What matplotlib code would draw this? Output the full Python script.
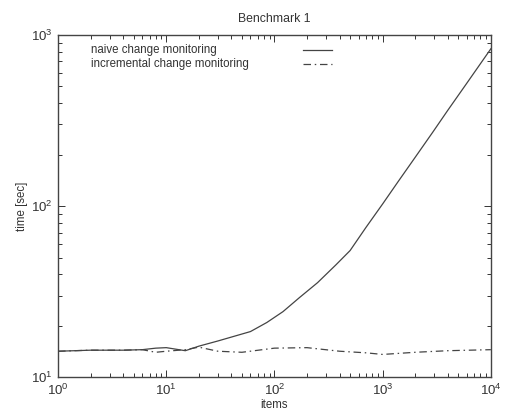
import matplotlib
matplotlib.use("Agg")
import matplotlib.pyplot as plt

plt.rcParams['font.family'] = ['Liberation Sans', 'DejaVu Sans']
plt.rcParams['mathtext.fontset'] = 'custom'
plt.rcParams['mathtext.rm'] = 'Liberation Sans'

# data
items_naive = [1, 2, 4, 6, 8, 10, 15, 20, 30, 60, 85, 120, 170, 250, 370, 500, 700,
               1000, 1400, 2000, 2900, 4000, 5900, 10000]
time_naive = [14.2, 14.4, 14.4, 14.5, 14.8, 14.9, 14.3, 15.2, 16.3, 18.5, 20.9, 24.2, 29.2,
              35.7, 45.4, 55.0, 75.0, 103, 140, 193, 270, 363, 515, 830]

items_inc = [1, 2, 4, 6, 8, 10, 15, 20, 30, 50, 100, 200, 400, 700, 1000, 2000, 4000, 10000]
time_inc = [14.2, 14.4, 14.4, 14.5, 14.0, 14.2, 14.5, 15.0, 14.2, 14.0, 14.8, 14.9, 14.2,
            13.9, 13.6, 14.0, 14.3, 14.5]

labels = ["naive change monitoring", "incremental change monitoring"]

line_color = '#444444'
txt_color = '#333333'
fs = 8.3

fig = plt.figure(figsize=(5.05, 4.11), dpi=100)
ax = fig.add_axes([0.115, 0.082, 0.857, 0.833])

ax.plot(items_naive, time_naive, color=line_color, lw=0.9)
ax.plot(items_inc, time_inc, color=line_color, lw=0.9, dashes=(6, 3, 1.2, 3))

ax.set_xscale('log')
ax.set_yscale('log')
ax.set_xlim(1, 1e4)
ax.set_ylim(10, 1000)

ax.tick_params(which='both', direction='in', top=True, right=True,
               labelsize=9.5, colors=txt_color, width=0.7)
ax.tick_params(which='major', length=5, pad=4)
ax.tick_params(which='minor', length=3)
for s in ax.spines.values():
    s.set_color(line_color)
    s.set_linewidth(1.0)

ax.set_title("Benchmark 1", fontsize=8.8, color=txt_color, pad=9)
ax.set_xlabel("items", fontsize=fs, color=txt_color, labelpad=1)
ax.set_ylabel("time [sec]", fontsize=fs, color=txt_color, labelpad=2)

# gnuplot-style key: text left aligned, sample line on the right
key_y = [0.955, 0.915]
styles = [dict(), dict(dashes=(6, 3, 1.2, 3))]
for lab, yy, st in zip(labels, key_y, styles):
    ax.text(0.075, yy, lab, transform=ax.transAxes, fontsize=fs,
            color=txt_color, va='center', ha='left')
    ax.plot([0.565, 0.632], [yy, yy], transform=ax.transAxes,
            color=line_color, lw=0.9, **st)

fig.savefig("out.png", dpi=100)
